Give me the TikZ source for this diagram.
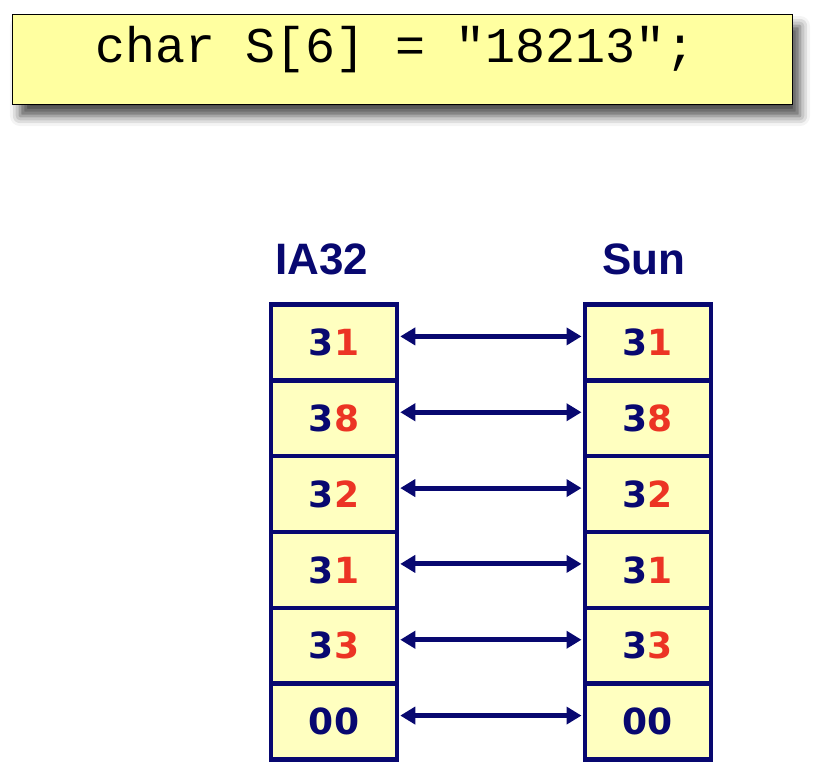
\documentclass[tikz,border=0pt]{standalone}
\usepackage{fontspec}
\usetikzlibrary{arrows.meta,shadows.blur}
\newfontfamily\monofnt{Liberation Mono}
\newfontfamily\labfnt{Liberation Sans}
\newfontfamily\digfnt{DejaVu Sans}
\definecolor{navyc}{RGB}{8,8,112}
\definecolor{redc}{RGB}{236,52,36}
\definecolor{cellfill}{RGB}{255,255,192}
\definecolor{topfill}{RGB}{255,255,160}
\tikzset{
  cellbox/.style={draw=navyc, line width=4.5pt, fill=cellfill, minimum width=126pt, minimum height=75.83pt, inner sep=0pt, font=\digfnt\bfseries\fontsize{36}{36}\selectfont},
  collabel/.style={text=navyc, inner sep=0pt, anchor=base, font=\labfnt\bfseries\fontsize{44}{44}\selectfont},
  dbl/.style={draw=navyc, line width=5pt, {Triangle[length=15pt,width=17pt]}-{Triangle[length=15pt,width=17pt]}, shorten <=1pt, shorten >=1pt}
}
\newcommand{\dg}[2]{\textcolor{navyc}{#1}\textcolor{redc}{#2}}
\begin{document}
\begin{tikzpicture}[x=1pt,y=-1pt]
\useasboundingbox (0,0) rectangle (824,774);
% top code box
\node[draw=black, line width=1pt, fill=topfill, minimum width=780pt, minimum height=90pt, inner sep=0pt,
  blur shadow={shadow xshift=8pt, shadow yshift=-12pt, shadow blur radius=10pt, shadow opacity=70}] (code) at (402,59) {};
\node[anchor=base, inner sep=0pt, font=\monofnt\fontsize{50}{50}\selectfont] (codetxt) at (396,62) {char S[6] = "18213";};
% labels
\node[collabel] (ia) at (322,274) {IA32};
\node[collabel] (sun) at (644,274) {Sun};
% cells
\foreach \i/\a/\b in {1/3/1,2/3/8,3/3/2,4/3/1,5/3/3}{
  \pgfmathsetmacro{\yy}{304.5+(\i-0.5)*75.83}
  \node[cellbox] (L\i) at (334,\yy) {\dg{\a}{\b}};
  \node[cellbox] (R\i) at (647.75,\yy) {\dg{\a}{\b}};
}
\pgfmathsetmacro{\yy}{304.5+5.5*75.83}
\node[cellbox] (L6) at (334,\yy) {\textcolor{navyc}{00}};
\node[cellbox] (R6) at (647.75,\yy) {\textcolor{navyc}{00}};
\foreach \i in {1,...,6}{
  \draw[dbl] ([yshift=6pt]L\i.east) -- ([yshift=6pt]R\i.west);
}
\end{tikzpicture}
\end{document}
